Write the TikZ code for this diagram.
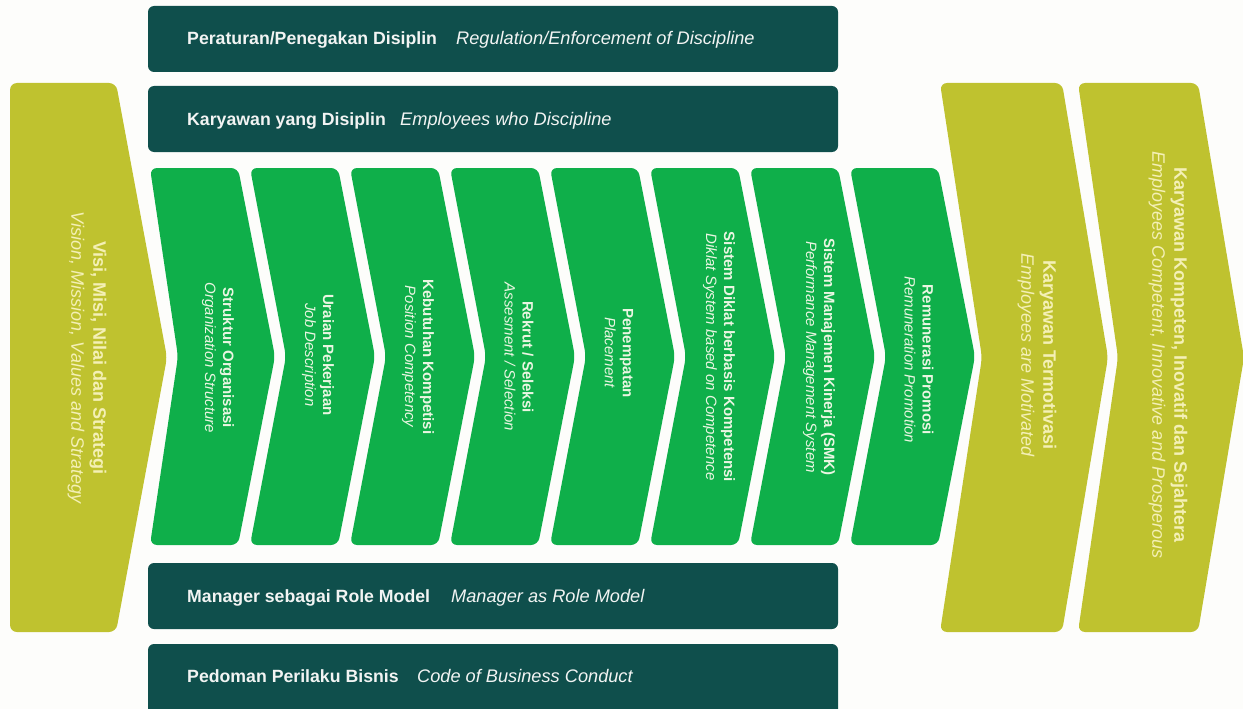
\documentclass[tikz,border=0pt]{standalone}
\usepackage{fontspec}
\setmainfont{Liberation Sans}
\definecolor{barteal}{HTML}{0F4F4C}
\definecolor{stepgreen}{HTML}{0FAF4A}
\definecolor{goalolive}{HTML}{BFC22F}
\definecolor{steptxt}{HTML}{EAF6E2}
\definecolor{goaltxt}{HTML}{F4F0B6}
\definecolor{bartxt}{HTML}{F2F4F3}
\definecolor{pagebg}{HTML}{FDFDFB}

% chevron: colour, left x, top y, bottom y, body width, point depth, notch depth
\newcommand{\chevronshape}[7]{%
  \fill[#1, rounded corners=7pt]
    (#2,#3) -- ({#2+#5},#3) -- ({#2+#5+#6},{(#3+#4)/2}) -- ({#2+#5},#4)
    -- (#2,#4) -- ({#2+#7},{(#3+#4)/2}) -- cycle;}

\begin{document}
\begin{tikzpicture}[x=1pt,y=-1pt]
\tikzset{
  steptext/.style={rotate=-90, align=center, text=steptxt, inner sep=0pt,
    font=\fontsize{15}{18}\selectfont},
  goaltext/.style={rotate=-90, align=center, text=goaltxt, inner sep=0pt,
    font=\fontsize{18}{22}\selectfont},
  barbold/.style={anchor=base west, text=bartxt, inner sep=0pt,
    font=\fontsize{17.7}{20}\selectfont\bfseries},
  barital/.style={anchor=base west, text=bartxt, inner sep=0pt,
    font=\fontsize{18.2}{20}\selectfont\itshape},
  barbox/.style={fill=barteal, rounded corners=6pt},
}
\fill[pagebg] (0,0) rectangle (1243,709);
\useasboundingbox (0,0) rectangle (1243,709);

% horizontal bars above and below the process
\fill[barbox] (148,6) rectangle (838,72);
\fill[barbox] (148,86) rectangle (838,152);
\fill[barbox] (148,563) rectangle (838,629);
\fill[barbox] (148,644) rectangle (838,716);

\node[barbold] (b1) at (187,45) {Peraturan/Penegakan Disiplin};
\node[barital] (b1e) at (456,45) {Regulation/Enforcement of Discipline};
\node[barbold] (b2) at (187,125) {Karyawan yang Disiplin};
\node[barital] (b2e) at (400,125) {Employees who Discipline};
\node[barbold] (b3) at (187,602) {Manager sebagai Role Model};
\node[barital] (b3e) at (451,602) {Manager as Role Model};
\node[barbold] (b4) at (187,682) {Pedoman Perilaku Bisnis};
\node[barital] (b4e) at (417,682) {Code of Business Conduct};

% starting chevron
\chevronshape{goalolive}{10}{83}{632}{106}{51}{0}
\node[goaltext] (vision) at (87,358)
  {\textbf{Visi, Misi, Nilai dan Strategi}\\\textit{Vision, Mission, Values and Strategy}};

% process chevrons
\chevronshape{stepgreen}{150}{168}{545}{88}{37}{28}
\foreach \i in {1,...,7}{
  \chevronshape{stepgreen}{150+100*\i}{168}{545}{88}{37}{36}
}
\node[steptext] (s1) at (218,358) {\textbf{Struktur Organisasi}\\\textit{Organization Structure}};
\node[steptext] (s2) at (318,355) {\textbf{Uraian Pekerjaan}\\\textit{Job Description}};
\node[steptext] (s3) at (418,357) {\textbf{Kebutuhan Kompetisi}\\\textit{Position Competency}};
\node[steptext] (s4) at (519,357) {\textbf{Rekrut / Seleksi}\\\textit{Assesment / Selection}};
\node[steptext] (s5) at (619,353) {\textbf{Penempatan}\\\textit{Placement}};
\node[steptext] (s6) at (719,357) {\textbf{Sistem Diklat berbasis Kompetensi}\\\textit{Diklat System based on Competence}};
\node[steptext] (s7) at (819,357) {\textbf{Sistem Manajemen Kinerja (SMK)}\\\textit{Performance Management System}};
\node[steptext] (s8) at (919,360) {\textbf{Remunerasi Promosi}\\\textit{Remuneration Promotion}};

% outcome chevrons
\chevronshape{goalolive}{940}{83}{632}{122}{46}{42}
\chevronshape{goalolive}{1078}{83}{632}{120}{46}{40}
\node[goaltext] (motiv) at (1037,355)
  {\textbf{Karyawan Termotivasi}\\\textit{Employees are Motivated}};
\node[goaltext] (prosper) at (1168,355)
  {\textbf{Karyawan Kompeten, Inovatif dan Sejahtera}\\\textit{Employees Competent, Innovative and Prosperous}};
\end{tikzpicture}
\end{document}
